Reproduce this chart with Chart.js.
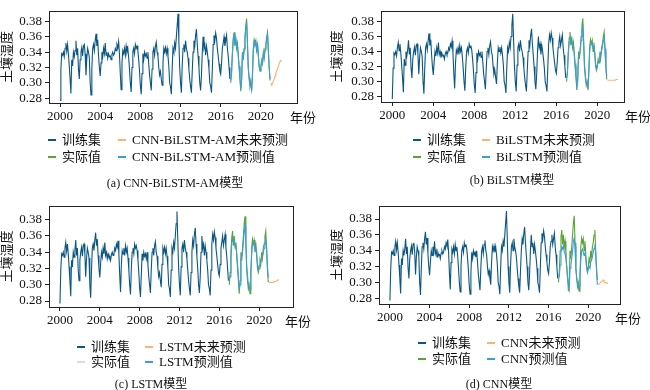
<!DOCTYPE html>
<html>
<head>
<meta charset="utf-8">
<script src="https://cdn.jsdelivr.net/npm/chart.js@4.4.1/dist/chart.umd.min.js"></script>
<style>
  body { margin: 0; background: #fff; }
  #wrap { position: relative; width: 650px; height: 390px; overflow: hidden;
          font-family: 'Liberation Serif', 'Noto Sans CJK SC', serif; color: #111; }
  #wrap canvas { position: absolute; }
  .txt { position: absolute; font-size: 13px; line-height: 16px; height: 16px; white-space: nowrap; }
  .cap { font-size: 12px; }
  .key { position: absolute; width: 8px; height: 1.5px; }
</style>
</head>
<body>
<div id="wrap"></div>
<script>
// training set, monthly values per year
const trainSet = {
  2000: [0.277, 0.318, 0.338, 0.336, 0.340, 0.334, 0.345, 0.352, 0.341, 0.350, 0.338, 0.322],
  2001: [0.305, 0.286, 0.330, 0.322, 0.340, 0.334, 0.342, 0.355, 0.336, 0.345, 0.318, 0.305],
  2002: [0.330, 0.340, 0.346, 0.335, 0.348, 0.350, 0.338, 0.310, 0.332, 0.345, 0.340, 0.333],
  2003: [0.300, 0.284, 0.318, 0.345, 0.350, 0.342, 0.355, 0.364, 0.348, 0.356, 0.336, 0.320],
  2004: [0.309, 0.326, 0.340, 0.334, 0.345, 0.338, 0.352, 0.336, 0.340, 0.332, 0.338, 0.334],
  2005: [0.335, 0.330, 0.337, 0.340, 0.336, 0.338, 0.345, 0.342, 0.350, 0.346, 0.354, 0.338],
  2006: [0.312, 0.291, 0.325, 0.342, 0.338, 0.345, 0.336, 0.348, 0.340, 0.345, 0.333, 0.318],
  2007: [0.300, 0.288, 0.320, 0.340, 0.345, 0.338, 0.350, 0.345, 0.348, 0.342, 0.330, 0.315],
  2008: [0.296, 0.285, 0.312, 0.338, 0.330, 0.340, 0.335, 0.338, 0.332, 0.340, 0.325, 0.310],
  2009: [0.300, 0.290, 0.318, 0.340, 0.345, 0.336, 0.348, 0.353, 0.340, 0.335, 0.320, 0.310],
  2010: [0.315, 0.305, 0.297, 0.325, 0.345, 0.340, 0.346, 0.338, 0.345, 0.335, 0.322, 0.300],
  2011: [0.295, 0.285, 0.318, 0.345, 0.340, 0.352, 0.345, 0.360, 0.375, 0.390, 0.355, 0.320],
  2012: [0.300, 0.287, 0.322, 0.345, 0.350, 0.340, 0.355, 0.345, 0.340, 0.332, 0.318, 0.305],
  2013: [0.295, 0.287, 0.315, 0.340, 0.355, 0.348, 0.362, 0.370, 0.350, 0.335, 0.320, 0.300],
  2014: [0.290, 0.310, 0.340, 0.360, 0.345, 0.350, 0.336, 0.348, 0.340, 0.330, 0.318, 0.300],
  2015: [0.295, 0.287, 0.318, 0.350, 0.362, 0.355, 0.365, 0.358, 0.345, 0.335, 0.325, 0.315],
  2016: [0.311, 0.325, 0.345, 0.352, 0.360, 0.348, 0.355, 0.362, 0.345, 0.335, 0.320, 0.305]
};

// test period: actual values
const actual = {
  2017: [0.300, 0.315, 0.340, 0.358, 0.366, 0.348, 0.360, 0.345, 0.352, 0.335, 0.320, 0.305],
  2018: [0.289, 0.305, 0.340, 0.330, 0.345, 0.360, 0.375, 0.384, 0.350, 0.318, 0.305, 0.295],
  2019: [0.300, 0.289, 0.310, 0.345, 0.356, 0.350, 0.355, 0.340, 0.352, 0.335, 0.320, 0.315],
  2020: [0.320, 0.330, 0.325, 0.340, 0.332, 0.345, 0.350, 0.360, 0.366, 0.340, 0.318, 0.303]
};

const predAM = {
  2017: [0.303, 0.312, 0.337, 0.355, 0.364, 0.350, 0.357, 0.347, 0.350, 0.337, 0.322, 0.307],
  2018: [0.292, 0.303, 0.336, 0.332, 0.343, 0.357, 0.371, 0.379, 0.352, 0.320, 0.307, 0.297],
  2019: [0.298, 0.291, 0.312, 0.342, 0.354, 0.351, 0.353, 0.342, 0.350, 0.337, 0.322, 0.316],
  2020: [0.321, 0.328, 0.326, 0.338, 0.334, 0.343, 0.349, 0.357, 0.363, 0.342, 0.320, 0.305]
};
const predBiLSTM = {
  2017: [0.305, 0.311, 0.335, 0.352, 0.361, 0.352, 0.355, 0.348, 0.348, 0.338, 0.324, 0.309],
  2018: [0.294, 0.301, 0.333, 0.334, 0.341, 0.355, 0.368, 0.376, 0.354, 0.322, 0.309, 0.299],
  2019: [0.296, 0.293, 0.314, 0.339, 0.352, 0.352, 0.351, 0.344, 0.348, 0.339, 0.324, 0.317],
  2020: [0.322, 0.326, 0.327, 0.336, 0.335, 0.341, 0.347, 0.354, 0.359, 0.344, 0.322, 0.307]
};
const predLSTM = {
  2017: [0.306, 0.310, 0.333, 0.350, 0.358, 0.353, 0.353, 0.349, 0.346, 0.339, 0.325, 0.311],
  2018: [0.296, 0.300, 0.331, 0.335, 0.340, 0.352, 0.365, 0.372, 0.356, 0.324, 0.311, 0.301],
  2019: [0.295, 0.294, 0.316, 0.337, 0.350, 0.353, 0.349, 0.345, 0.346, 0.340, 0.326, 0.318],
  2020: [0.323, 0.325, 0.328, 0.334, 0.336, 0.339, 0.345, 0.351, 0.356, 0.346, 0.324, 0.309]
};
const predCNN = {
  2017: [0.310, 0.308, 0.322, 0.338, 0.345, 0.342, 0.346, 0.338, 0.336, 0.330, 0.318, 0.306],
  2018: [0.298, 0.292, 0.318, 0.322, 0.330, 0.340, 0.352, 0.356, 0.345, 0.318, 0.306, 0.298],
  2019: [0.292, 0.295, 0.308, 0.328, 0.340, 0.342, 0.338, 0.334, 0.338, 0.330, 0.318, 0.312],
  2020: [0.316, 0.320, 0.318, 0.326, 0.328, 0.332, 0.338, 0.343, 0.348, 0.336, 0.315, 0.297]
};

// future forecasts, monthly from Jan 2021 to Jan 2022
const futureStart = 2021;
const futureAM     = [0.300, 0.297, 0.299, 0.303, 0.305, 0.309, 0.313, 0.316, 0.318, 0.322, 0.325, 0.328, 0.330];
const futureBiLSTM = [0.302, 0.302, 0.302, 0.302, 0.302, 0.302, 0.302, 0.302, 0.302, 0.302, 0.303, 0.303, 0.303];
const futureLSTM   = [0.303, 0.303, 0.303, 0.303, 0.303, 0.303, 0.304, 0.304, 0.304, 0.305, 0.305, 0.306, 0.306];
const futureCNN    = [0.297, 0.298, 0.299, 0.300, 0.301, 0.302, 0.303, 0.301, 0.300, 0.300, 0.299, 0.299, 0.299];

const yearTicks = [2000, 2004, 2008, 2012, 2016, 2020];
const moistureTicks = [0.28, 0.30, 0.32, 0.34, 0.36, 0.38];

const C_TRAIN = '#0b5784', C_ACTUAL = '#5ba332', C_PRED = '#3b9ddd', C_FUTURE = '#f7b472';
const FONT = "'Liberation Serif', 'Noto Sans CJK SC', serif";

function toPoints(byYear) {
  let pts = [];
  Object.keys(byYear).forEach(y => {
    byYear[y].forEach((v, m) => pts.push({x: Number(y) + m / 12, y: v}));
  });
  return pts;
}
function futurePoints(arr) {
  return arr.map((v, m) => ({x: futureStart + m / 12, y: v}));
}

const panels = [
  {name: 'CNN-BiLSTM-AM', tag: '(a)', pred: predAM, future: futureAM,
   left: 0, top: 0, w: 310, h: 128, area: {l: 49, t: 3, r: 297, b: 103}, xMax: 2023.6, yMin: 0.2736, yMax: 0.394,
   legX: [48, 118], legY: [140, 157], cap: [175, 183], yearLbl: [290, 118], actualKey: C_ACTUAL},
  {name: 'BiLSTM', tag: '(b)', pred: predBiLSTM, future: futureBiLSTM,
   left: 330, top: 0, w: 300, h: 128, area: {l: 51, t: 2, r: 294, b: 102}, xMax: 2022.6, yMin: 0.2731, yMax: 0.394,
   legX: [413, 482], legY: [140, 157], cap: [512, 180], yearLbl: [625, 117], actualKey: C_ACTUAL},
  {name: 'LSTM', tag: '(c)', pred: predLSTM, future: futureLSTM,
   left: 0, top: 195, w: 310, h: 136, area: {l: 49, t: 10, r: 293, b: 112}, xMax: 2023.4, yMin: 0.2727, yMax: 0.397,
   legX: [77, 145], legY: [347, 362], cap: [151, 384], yearLbl: [285, 322], actualKey: '#cfe8c6'},
  {name: 'CNN', tag: '(d)', pred: predCNN, future: futureCNN,
   left: 330, top: 195, w: 300, h: 134, area: {l: 49, t: 7, r: 290, b: 109}, xMax: 2023.2, yMin: 0.2727, yMax: 0.3967,
   legX: [418, 487], legY: [343, 359], cap: [499, 384], yearLbl: [615, 319], actualKey: C_ACTUAL}
];

const framePlugin = {
  id: 'frame',
  afterDraw(chart) {
    const a = chart.chartArea, ctx = chart.ctx;
    ctx.save();
    ctx.strokeStyle = '#222';
    ctx.lineWidth = 1;
    ctx.strokeRect(Math.round(a.left) + 0.5, Math.round(a.top) + 0.5,
                   Math.round(a.right - a.left), Math.round(a.bottom - a.top));
    ctx.restore();
  }
};

const wrap = document.getElementById('wrap');

function addText(text, x, y, align, cls) {
  const d = document.createElement('div');
  d.className = 'txt' + (cls ? ' ' + cls : '');
  d.textContent = text;
  d.style.top = (y - 8) + 'px';
  if (align === 'center') {
    d.style.left = (x - 200) + 'px';
    d.style.width = '400px';
    d.style.textAlign = 'center';
  } else {
    d.style.left = x + 'px';
  }
  wrap.appendChild(d);
}
function addKey(color, x, y, label) {
  const k = document.createElement('div');
  k.className = 'key';
  k.style.left = x + 'px';
  k.style.top = (y - 1) + 'px';
  k.style.background = color;
  wrap.appendChild(k);
  addText(label, x + 14, y);
}

const trainPts = toPoints(trainSet);
const actualPts = toPoints(actual);

panels.forEach(p => {
  const cv = document.createElement('canvas');
  cv.width = p.w; cv.height = p.h;
  cv.style.left = p.left + 'px'; cv.style.top = p.top + 'px';
  cv.style.width = p.w + 'px'; cv.style.height = p.h + 'px';
  wrap.appendChild(cv);

  new Chart(cv.getContext('2d'), {
    type: 'line',
    data: {
      datasets: [
        {label: '训练集', data: trainPts, borderColor: C_TRAIN, order: 4},
        {label: '实际值', data: actualPts, borderColor: C_ACTUAL, order: 3},
        {label: p.name + '预测值', data: toPoints(p.pred), borderColor: C_PRED, order: 2},
        {label: p.name + '未来预测', data: futurePoints(p.future), borderColor: C_FUTURE, order: 1}
      ]
    },
    options: {
      responsive: false,
      animation: false,
      layout: {padding: {left: 0, top: p.area.t, right: p.w - p.area.r, bottom: 0}},
      plugins: {legend: {display: false}, tooltip: {enabled: false}},
      elements: {point: {radius: 0}, line: {borderWidth: 1.1, tension: 0}},
      scales: {
        x: {
          type: 'linear', min: 1998.9, max: p.xMax,
          afterBuildTicks: s => { s.ticks = yearTicks.map(v => ({value: v})); },
          afterFit: s => { s.height = p.h - p.area.b; },
          grid: {drawOnChartArea: false, tickLength: 4, color: '#222'},
          border: {display: false},
          ticks: {font: {family: FONT, size: 13}, color: '#111', padding: 2, maxRotation: 0,
                  autoSkip: false, callback: v => String(v)}
        },
        y: {
          min: p.yMin, max: p.yMax,
          afterBuildTicks: s => { s.ticks = moistureTicks.map(v => ({value: v})); },
          afterFit: s => { s.width = p.area.l; },
          grid: {drawOnChartArea: false, tickLength: 4, color: '#222'},
          border: {display: false},
          ticks: {font: {family: FONT, size: 13}, color: '#111', padding: 3, autoSkip: false,
                  callback: v => v.toFixed(2)},
          title: {display: true, text: '土壤湿度', font: {family: FONT, size: 13}, color: '#111',
                  padding: 0}
        }
      }
    },
    plugins: [framePlugin]
  });

  addText('年份', p.yearLbl[0], p.yearLbl[1]);
  addKey(C_TRAIN, p.legX[0], p.legY[0], '训练集');
  addKey(C_FUTURE, p.legX[1], p.legY[0], p.name + '未来预测');
  addKey(p.actualKey, p.legX[0], p.legY[1], '实际值');
  addKey(C_PRED, p.legX[1], p.legY[1], p.name + '预测值');
  addText(p.tag + ' ' + p.name + '模型', p.cap[0], p.cap[1], 'center', 'cap');
});
</script>
</body>
</html>
